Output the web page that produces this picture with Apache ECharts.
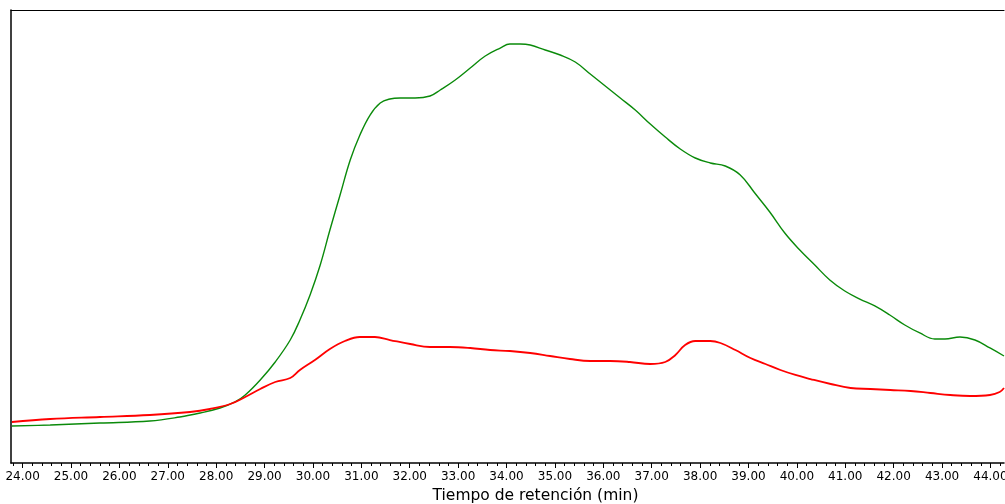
<!DOCTYPE html>
<html>
<head>
<meta charset="utf-8">
<script src="https://cdn.jsdelivr.net/npm/echarts@6/dist/echarts.min.js"></script>
<style>
html,body{margin:0;padding:0;background:#fff;}
#chart{width:1005px;height:504px;}
</style>
</head>
<body>
<div id="chart"></div>
<script>
// Retention time (min) and detector signal (arbitrary units)
const greenTime = [23.78,24.57,25.60,26.63,27.25,27.67,28.08,28.39,28.60,28.91,29.22,29.53,29.73,29.94,30.15,30.35,30.56,30.77,30.97,31.18,31.39,31.59,31.80,32.11,32.42,32.63,32.94,33.25,33.56,33.87,34.07,34.28,34.49,34.80,35.11,35.42,35.73,36.04,36.35,36.66,36.97,37.28,37.59,37.90,38.21,38.52,38.83,39.13,39.44,39.75,40.06,40.37,40.68,40.99,41.30,41.61,41.92,42.23,42.54,42.85,43.06,43.37,43.68,43.99,44.28];
const greenSignal = [8.17,8.39,8.83,9.27,10.15,11.04,12.14,13.47,15.01,18.32,22.30,27.15,31.57,37.09,43.71,51.43,59.16,66.89,72.41,76.82,79.47,80.35,80.57,80.57,81.02,82.34,84.55,87.20,89.85,91.61,92.49,92.49,92.27,91.17,90.07,88.52,85.87,83.22,80.57,77.92,74.83,71.96,69.32,67.33,66.23,65.56,63.58,59.60,55.41,50.77,47.02,43.71,40.40,37.97,36.20,34.66,32.67,30.46,28.70,27.37,27.37,27.81,27.15,25.39,23.62];
const redTime = [23.78,24.57,25.60,26.63,27.46,27.87,28.29,28.60,28.91,29.22,29.53,29.73,30.04,30.35,30.66,30.97,31.28,31.59,32.01,32.42,32.83,33.25,33.66,34.07,34.49,34.90,35.31,35.73,36.14,36.55,36.97,37.28,37.49,37.69,37.90,38.21,38.42,38.73,39.04,39.35,39.66,39.97,40.28,40.70,41.11,41.52,41.93,42.35,42.76,43.17,43.58,43.99,44.19,44.28];
const redSignal = [9.05,9.71,10.15,10.60,11.26,11.92,13.02,14.57,16.34,17.88,18.76,20.53,22.74,25.17,26.93,27.81,27.81,27.15,26.27,25.61,25.61,25.39,24.94,24.72,24.28,23.62,22.96,22.52,22.52,22.30,21.85,22.30,23.84,26.05,26.93,26.93,26.49,24.94,23.18,21.85,20.53,19.43,18.54,17.44,16.56,16.34,16.11,15.89,15.45,15.01,14.79,15.01,15.67,16.56];
const majorTicks = [24,25,26,27,28,29,30,31,32,33,34,35,36,37,38,39,40,41,42,43,44];
const minorTicks = [];
for (let i = 119; i <= 221; i++) minorTicks.push(+(i * 0.2).toFixed(1));
const xMin = 23.76, xMax = 44.28;
const axisTitle = 'Tiempo de retención (min)';

const zip = (a, b) => a.map((v, i) => [v, b[i]]);
const FONT = 'DejaVu Sans';

const chart = echarts.init(document.getElementById('chart'), null, {renderer: 'canvas'});
chart.setOption({
  animation: false,
  backgroundColor: '#ffffff',
  grid: {left: 11, right: 1, top: 10, bottom: 41, containLabel: false, outerBoundsMode: 'none'},
  xAxis: [
    {
      type: 'value', min: xMin, max: xMax, position: 'bottom',
      axisLine: {show: true, lineStyle: {color: '#000', width: 1.5}},
      axisTick: {show: true, customValues: majorTicks, length: 5, lineStyle: {color: '#000', width: 1}},
      axisLabel: {show: true, customValues: majorTicks, formatter: v => v.toFixed(2),
        color: '#000', fontFamily: FONT, fontSize: 12, margin: 8, hideOverlap: false},
      splitLine: {show: false},
      name: axisTitle, nameLocation: 'middle', nameGap: 23,
      nameTextStyle: {color: '#000', fontFamily: FONT, fontSize: 15.5, padding: [0, 0, 0, 56]}
    },
    {
      type: 'value', min: xMin, max: xMax, position: 'bottom',
      axisLine: {show: false},
      axisTick: {show: true, customValues: minorTicks, length: 3, lineStyle: {color: '#000', width: 1}},
      axisLabel: {show: false},
      splitLine: {show: false}
    },
    {
      type: 'value', min: xMin, max: xMax, position: 'top',
      axisLine: {show: true, lineStyle: {color: '#000', width: 1.2}},
      axisTick: {show: false}, axisLabel: {show: false}, splitLine: {show: false}
    }
  ],
  yAxis: {
    type: 'value', min: 0, max: 100,
    axisLine: {show: true, lineStyle: {color: '#000', width: 1.5}},
    axisTick: {show: false}, axisLabel: {show: false}, splitLine: {show: false}
  },
  series: [
    {
      type: 'line', xAxisIndex: 0, data: zip(greenTime, greenSignal),
      showSymbol: false, smooth: 0.4,
      lineStyle: {color: '#0a8a0a', width: 1.4}, z: 2
    },
    {
      type: 'line', xAxisIndex: 0, data: zip(redTime, redSignal),
      showSymbol: false, smooth: 0.4,
      lineStyle: {color: '#ff0000', width: 1.8}, z: 3
    }
  ]
});
</script>
</body>
</html>
